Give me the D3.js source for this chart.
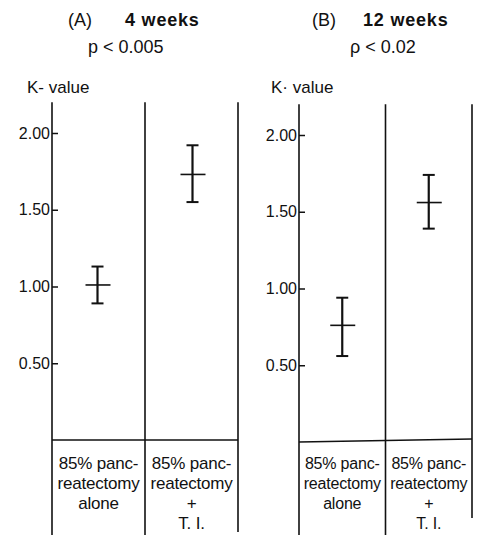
<!DOCTYPE html>
<html>
<head>
<meta charset="utf-8">
<script src="https://cdn.jsdelivr.net/npm/d3@7"></script>
<style>
body{margin:0;background:#fff;}
text{font-family:"Liberation Sans","DejaVu Sans",sans-serif;fill:#111;}
</style>
</head>
<body>
<svg id="svg" width="481" height="535"></svg>
<script>
// values
var groups=["alone","T.I."];
var meansA=[1.01,1.73], upperA=[1.13,1.92], lowerA=[0.89,1.55];
var meansB=[0.76,1.56], upperB=[0.94,1.74], lowerB=[0.56,1.39];
var ticks=[0.5,1.0,1.5,2.0];
var labelLines=[["85% panc-","reatectomy","alone"],["85% panc-","reatectomy","+","T. I."]];

var svg=d3.select("#svg");

function panel(p){
    var g=svg.append("g");
    var y=d3.scaleLinear().domain([0,2]).range([p.y0,p.y2]);
    var x=d3.scaleBand().domain(groups).range([p.left,p.right]);

    // title
    g.append("text").attr("x",p.tx).attr("y",26).attr("font-size",18)
     .attr("font-family","DejaVu Sans").text(p.letter);
    g.append("text").attr("x",p.wx).attr("y",26).attr("font-size",18).attr("letter-spacing","0.8")
     .attr("font-family","DejaVu Sans").attr("font-weight","bold").text(p.weeks);
    g.append("text").attr("x",p.px).attr("y",53).attr("font-size",18)
     .attr("font-family","DejaVu Sans").text(p.pval);
    g.append("text").attr("x",p.kx).attr("y",93).attr("font-size",17).text(p.klabel);

    // axis
    var ax=g.append("g").attr("transform","translate("+p.left+",0)")
        .call(d3.axisLeft(y).tickValues(ticks).tickFormat(d3.format(".2f")).tickSize(-6).tickPadding(2));
    ax.select(".domain").remove();
    ax.selectAll("line").attr("stroke","#111").attr("stroke-width",1.5);
    ax.selectAll("text").attr("font-size",16).attr("font-family","Liberation Sans, sans-serif").attr("fill","#111");

    // frame
    var top=y(2.2);
    g.append("line").attr("x1",p.left).attr("x2",p.left).attr("y1",top).attr("y2",535);
    g.append("line").attr("x1",x("T.I.")).attr("x2",x("T.I.")).attr("y1",top).attr("y2",535);
    g.append("line").attr("x1",p.right).attr("x2",p.right).attr("y1",top).attr("y2",p.rbottom);
    g.append("line").attr("x1",p.left).attr("x2",p.right).attr("y1",y(0)).attr("y2",y(0)-p.tilt);
    g.selectAll("line").filter(function(){return !this.closest(".tick");})
        .attr("stroke","#111").attr("stroke-width",1.6);

    // error bars
    groups.forEach(function(k,i){
        var cx=x(k)+x.bandwidth()/2+p.off[i];
        var e=g.append("g").attr("stroke","#111");
        e.append("line").attr("x1",cx).attr("x2",cx).attr("y1",y(p.up[i])).attr("y2",y(p.lo[i])).attr("stroke-width",2.2);
        e.append("line").attr("x1",cx-6).attr("x2",cx+6).attr("y1",y(p.up[i])).attr("y2",y(p.up[i])).attr("stroke-width",2);
        e.append("line").attr("x1",cx-6).attr("x2",cx+6).attr("y1",y(p.lo[i])).attr("y2",y(p.lo[i])).attr("stroke-width",2);
        e.append("line").attr("x1",cx-12).attr("x2",cx+13).attr("y1",y(p.mean[i])).attr("y2",y(p.mean[i])).attr("stroke-width",1.6);

        var c=x(k)+x.bandwidth()/2;
        labelLines[i].forEach(function(s,j){
            g.append("text").attr("x",c).attr("y",469+j*20).attr("text-anchor","middle")
             .attr("font-size",p.fs).attr("letter-spacing","-0.2").text(s);
        });
    });
}

panel({left:52,right:238,y0:440,y2:133,rbottom:532,tilt:0,off:[-1,1],fs:17,
       mean:meansA,up:upperA,lo:lowerA,letter:"(A)",weeks:"4 weeks",tx:68,wx:125,px:88,pval:"p < 0.005",kx:27,klabel:"K- value"});
panel({left:299,right:472,y0:442,y2:135,rbottom:518,tilt:3,off:[0,0],fs:16,
       mean:meansB,up:upperB,lo:lowerB,letter:"(B)",weeks:"12 weeks",tx:312,wx:363,px:350,pval:"ρ < 0.02",kx:271,klabel:"K· value"});
</script>
</body>
</html>
